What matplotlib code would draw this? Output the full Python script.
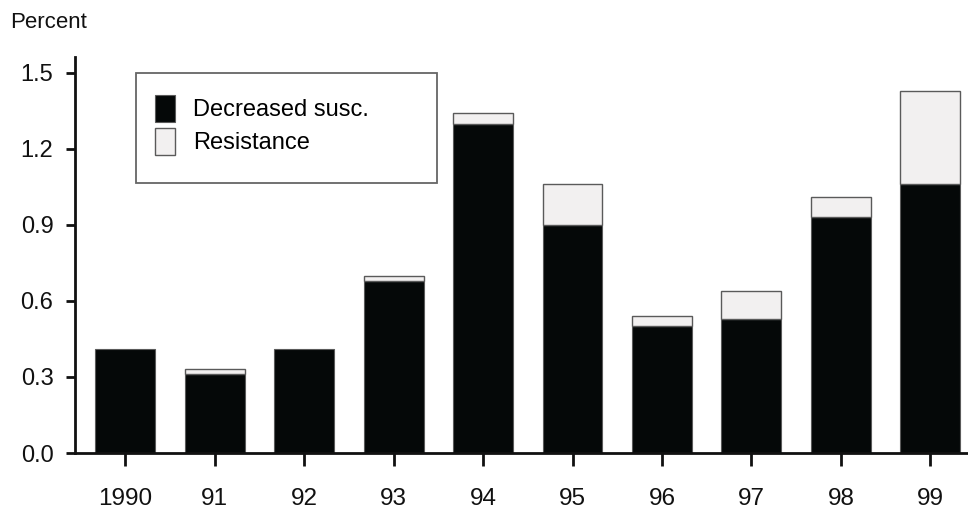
import numpy as np
import matplotlib
matplotlib.use('Agg')
import matplotlib.pyplot as plt
from matplotlib.patches import Rectangle, Patch

plt.rcParams['font.family'] = ['Liberation Sans Narrow', 'Liberation Sans', 'DejaVu Sans']

# Share of isolates by year (percent)
years = ['1990', '91', '92', '93', '94', '95', '96', '97', '98', '99']
decreased = [0.41, 0.31, 0.41, 0.68, 1.30, 0.90, 0.50, 0.53, 0.93, 1.06]
resistance = [0.00, 0.02, 0.00, 0.02, 0.04, 0.16, 0.04, 0.11, 0.08, 0.37]
yticks = [0.0, 0.3, 0.6, 0.9, 1.2, 1.5]

W, H = 968, 514
fig = plt.figure(figsize=(W / 100, H / 100), dpi=100)
ax = fig.add_axes([75 / W, 1 - 453 / H, (W - 75) / W, (453 - 57) / H])

x = np.arange(len(years))
dark, light, edge = '#050808', '#f2f0f0', '#5a5a5a'

ax.bar(x, decreased, width=0.67, color=dark, edgecolor=edge, linewidth=0.8, zorder=2)
ax.bar(x, resistance, bottom=decreased, width=0.67, color=light, edgecolor=edge,
       linewidth=[1.0 if r > 0 else 0 for r in resistance], zorder=2)

ax.set_xlim(-0.56, 9.42)
ax.set_ylim(0, 1.563)
ax.set_xticks(x)
ax.set_xticklabels(years, fontsize=17.5)
ax.set_yticks(yticks)
ax.set_yticklabels([f'{v:.1f}' for v in yticks], fontsize=17)

for s in ['top', 'right']:
    ax.spines[s].set_visible(False)
for s in ['left', 'bottom']:
    ax.spines[s].set_linewidth(2)
    ax.spines[s].set_color('#111111')

ax.tick_params(axis='x', direction='out', length=9.5, width=2, pad=16, colors='#111111')
ax.tick_params(axis='y', direction='out', length=6.5, width=2, pad=9, colors='#111111')

fig.text(10.5 / W, 1 - 28.3 / H, 'Percent', fontsize=16, va='baseline', ha='left',
         color='#111111')

# legend box drawn separately so the padding can be uneven
frame = Rectangle((135.7 / W, 1 - 183.3 / H), (437.3 - 135.7) / W, (183.3 - 72.7) / H,
                  transform=fig.transFigure, facecolor='white', edgecolor='#666666',
                  linewidth=1.3, zorder=3)
fig.patches.append(frame)

handles = [Patch(facecolor=dark, edgecolor=edge, linewidth=0.8, label='Decreased susc.'),
           Patch(facecolor=light, edgecolor=edge, linewidth=1.0, label='Resistance')]
leg = fig.legend(handles=handles, loc='upper left',
                 bbox_to_anchor=(155 / W, 1 - 95 / H), bbox_transform=fig.transFigure,
                 frameon=False, fontsize=17, borderpad=0, borderaxespad=0,
                 handlelength=0.85, handleheight=1.38, handletextpad=0.75,
                 labelspacing=0.25)
leg.set_zorder(4)

fig.savefig('out.png', dpi=100)
